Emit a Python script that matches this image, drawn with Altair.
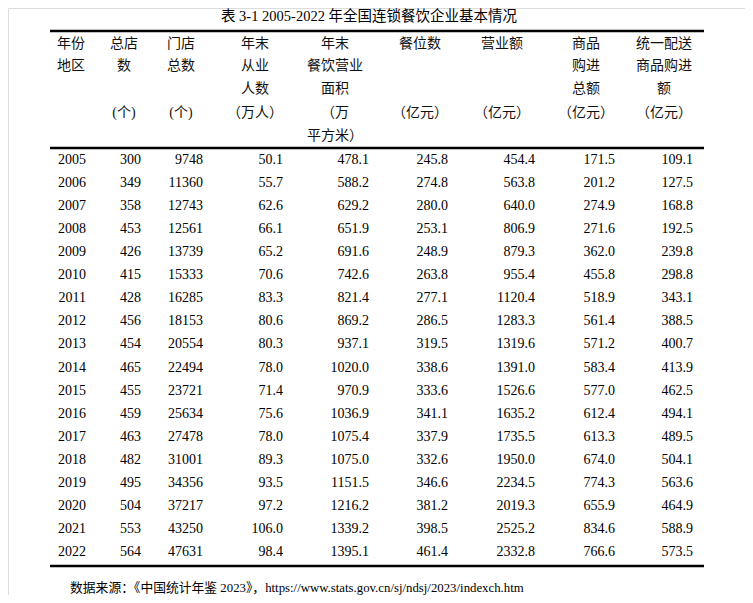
import altair as alt
import pandas as pd

# ---------------- data ----------------
title_text = "表 3-1 2005-2022 年全国连锁餐饮企业基本情况"
source_text = "数据来源：《中国统计年鉴 2023》，https://www.stats.gov.cn/sj/ndsj/2023/indexch.htm"

years = [2005, 2006, 2007, 2008, 2009, 2010, 2011, 2012, 2013,
         2014, 2015, 2016, 2017, 2018, 2019, 2020, 2021, 2022]
total_stores = [300, 349, 358, 453, 426, 415, 428, 456, 454,
                465, 455, 459, 463, 482, 495, 504, 553, 564]
outlets = [9748, 11360, 12743, 12561, 13739, 15333, 16285, 18153, 20554,
           22494, 23721, 25634, 27478, 31001, 34356, 37217, 43250, 47631]
employees = [50.1, 55.7, 62.6, 66.1, 65.2, 70.6, 83.3, 80.6, 80.3,
             78.0, 71.4, 75.6, 78.0, 89.3, 93.5, 97.2, 106.0, 98.4]
area = [478.1, 588.2, 629.2, 651.9, 691.6, 742.6, 821.4, 869.2, 937.1,
        1020.0, 970.9, 1036.9, 1075.4, 1075.0, 1151.5, 1216.2, 1339.2, 1395.1]
seats = [245.8, 274.8, 280.0, 253.1, 248.9, 263.8, 277.1, 286.5, 319.5,
         338.6, 333.6, 341.1, 337.9, 332.6, 346.6, 381.2, 398.5, 461.4]
revenue = [454.4, 563.8, 640.0, 806.9, 879.3, 955.4, 1120.4, 1283.3, 1319.6,
           1391.0, 1526.6, 1635.2, 1735.5, 1950.0, 2234.5, 2019.3, 2525.2, 2332.8]
purchases = [171.5, 201.2, 274.9, 271.6, 362.0, 455.8, 518.9, 561.4, 571.2,
             583.4, 577.0, 612.4, 613.3, 674.0, 774.3, 655.9, 834.6, 766.6]
distributed = [109.1, 127.5, 168.8, 192.5, 239.8, 298.8, 343.1, 388.5, 400.7,
               413.9, 462.5, 494.1, 489.5, 504.1, 563.6, 464.9, 588.9, 573.5]

headers = [
    ["年份", "地区", "", "", ""],
    ["总店", "数", "", "(个)", ""],
    ["门店", "总数", "", "(个)", ""],
    ["年末", "从业", "人数", "（万人）", ""],
    ["年末", "餐饮营业", "面积", "（万", "平方米）"],
    ["餐位数", "", "", "（亿元）", ""],
    ["营业额", "", "", "（亿元）", ""],
    ["商品", "购进", "总额", "（亿元）", ""],
    ["统一配送", "商品购进", "额", "（亿元）", ""],
]

# ---------------- layout ----------------
col_right = [86, 141, 203, 283, 369, 448, 535, 615, 693]
header_center = [71, 124, 181, 255, 335, 420, 502, 586, 664]
header_line_y = [44, 66, 89, 113, 136]
row_y0 = 160
row_step = 23.06
rule_y = [31, 148, 566]
rule_x0, rule_x1 = 50, 704
decimals = [0, 0, 0, 1, 1, 1, 1, 1, 1]

FONT = "'Liberation Serif', 'Noto Sans CJK SC', serif"

columns = [years, total_stores, outlets, employees, area, seats, revenue,
           purchases, distributed]

body_rows = []
for c, vals in enumerate(columns):
    for r, v in enumerate(vals):
        label = f"{v:.{decimals[c]}f}" if decimals[c] else f"{int(v)}"
        body_rows.append({"x": col_right[c], "y": row_y0 + r * row_step, "label": label})
body_df = pd.DataFrame(body_rows)

head_rows = []
for c, lines in enumerate(headers):
    for i, t in enumerate(lines):
        if t:
            head_rows.append({"x": header_center[c], "y": header_line_y[i], "label": t})
head_df = pd.DataFrame(head_rows)

rules_df = pd.DataFrame({"x": [rule_x0] * 3, "x2": [rule_x1] * 3, "y": rule_y})
title_df = pd.DataFrame({"x": [369], "y": [17], "label": [title_text]})
source_df = pd.DataFrame({"x": [70], "y": [588], "label": [source_text]})

xs = alt.Scale(domain=[8, 745], nice=False, zero=False)
ys = alt.Scale(domain=[8, 595], nice=False, zero=False, reverse=True)

X = lambda f="x": alt.X(f"{f}:Q", scale=xs, axis=None)
Y = alt.Y("y:Q", scale=ys, axis=None)

rules = alt.Chart(rules_df).mark_rule(color="black", strokeWidth=2.7).encode(
    x=X(), x2="x2:Q", y=Y
)
body = alt.Chart(body_df).mark_text(
    align="right", baseline="middle", font=FONT, fontSize=14, color="black"
).encode(x=X(), y=Y, text="label:N")
head = alt.Chart(head_df).mark_text(
    align="center", baseline="middle", font=FONT, fontSize=14, color="#111"
).encode(x=X(), y=Y, text="label:N")
title = alt.Chart(title_df).mark_text(
    align="center", baseline="middle", font=FONT, fontSize=14.5, color="black"
).encode(x=X(), y=Y, text="label:N")
source = alt.Chart(source_df).mark_text(
    align="left", baseline="middle", font=FONT, fontSize=12.8, color="black"
).encode(x=X(), y=Y, text="label:N")

chart = alt.layer(rules, head, body, title, source).properties(
    width=737, height=587, padding=0,
    autosize=alt.AutoSizeParams(type="none"),
).configure_view(strokeWidth=0).configure(background="white")

chart.save("out.html", embed_options={"renderer": "svg", "actions": False})
